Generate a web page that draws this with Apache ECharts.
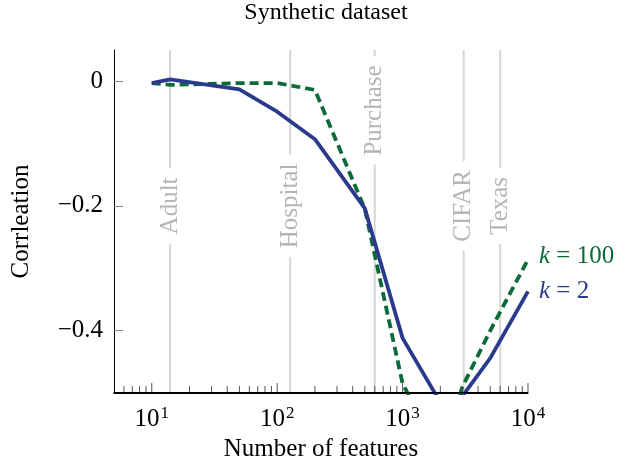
<!DOCTYPE html>
<html>
<head>
<meta charset="utf-8">
<script src="https://cdn.jsdelivr.net/npm/echarts@6/dist/echarts.min.js"></script>
<style>
  html, body { margin: 0; padding: 0; background: #fff; }
  #chart { width: 627px; height: 467px; }
</style>
</head>
<body>
<div id="chart"></div>
<script>
const features = [10, 14, 50, 100, 200, 500, 1000, 2000, 3000, 5000, 10000]
const corrK2 = [-0.003, 0.003, -0.013, -0.049, -0.093, -0.204, -0.412, -0.515, -0.505, -0.444, -0.337]
const corrK100 = [-0.003, -0.006, -0.003, -0.003, -0.014, -0.205, -0.485, -0.6, -0.49, -0.4, -0.286]

// real datasets, marked as vertical lines
const datasetNames = ['Adult', 'Hospital', 'Purchase', 'CIFAR', 'Texas']
const datasetFeatures = [14, 127, 600, 3072, 6000]
const datasetLabelY = [-0.2, -0.2, -0.047, -0.2, -0.2]

const yTicks = [0, -0.2, -0.4]
const xMajorTicks = [10, 100, 1000, 10000]
const xMinorTicks = [6, 7, 8, 9, 20, 30, 40, 50, 60, 70, 80, 90,
  200, 300, 400, 500, 600, 700, 800, 900,
  2000, 3000, 4000, 5000, 6000, 7000, 8000, 9000]

const xMin = 5
const xMax = 10000
const yMin = -0.5
const yMax = 0.05
const serif = 'Liberation Serif'
const fs = 25
const blue = '#2b3a8c'
const green = '#0a6b38'

const chart = echarts.init(document.getElementById('chart'))

chart.setOption({
  animation: false,
  title: {
    text: 'Synthetic dataset',
    left: 321,
    top: -4,
    textAlign: 'center',
    textStyle: { fontFamily: serif, fontWeight: 'normal', fontSize: 24, color: '#000' }
  },
  grid: { left: 114, right: 99, top: 50, bottom: 73 },
  xAxis: {
    type: 'log',
    logBase: 10,
    min: xMin,
    max: xMax,
    name: 'Number of features',
    nameLocation: 'middle',
    nameGap: 44,
    nameTextStyle: { fontFamily: serif, fontSize: fs, color: '#000' },
    axisLine: { show: true, onZero: false, lineStyle: { color: '#000', width: 1 } },
    axisTick: { show: false },
    splitLine: { show: false },
    axisLabel: {
      margin: 12,
      showMinLabel: false,
      formatter: v => {
        const e = Math.round(Math.log10(v))
        if (Math.abs(Math.log10(v) - e) > 1e-6) return ''
        return '{b|10}{s|' + e + '}'
      },
      rich: {
        b: { fontFamily: serif, fontSize: fs, color: '#000' },
        s: { fontFamily: serif, fontSize: 17, color: '#000', padding: [0, 0, 11, 1] }
      }
    }
  },
  yAxis: {
    type: 'value',
    min: yMin,
    max: yMax,
    name: 'Corrleation',
    nameLocation: 'middle',
    nameGap: 80,
    nameTextStyle: { fontFamily: serif, fontSize: fs, color: '#000' },
    axisLine: { show: true, lineStyle: { color: '#000', width: 1 } },
    axisTick: { inside: true, length: 9, lineStyle: { color: '#888' }, customValues: yTicks },
    splitLine: { show: false },
    axisLabel: {
      margin: 11,
      fontFamily: serif,
      fontSize: fs,
      color: '#000',
      customValues: yTicks,
      formatter: v => (v < 0 ? '\u2212' + Math.abs(v) : String(v))
    }
  },
  series: [
    {
      // dataset lines with their rotated names on a white box
      type: 'custom',
      z: 1,
      silent: true,
      clip: false,
      data: datasetFeatures.map((f, i) => [f, datasetLabelY[i]]),
      renderItem: (params, api) => {
        const x = api.value(0)
        const top = api.coord([x, yMax])
        const bottom = api.coord([x, yMin])
        const mid = api.coord([x, api.value(1)])
        return {
          type: 'group',
          children: [
            {
              type: 'line',
              shape: { x1: top[0], y1: top[1], x2: bottom[0], y2: bottom[1] },
              style: { stroke: '#d6d6d6', lineWidth: 2 }
            },
            {
              type: 'text',
              x: mid[0],
              y: mid[1],
              rotation: Math.PI / 2,
              style: {
                text: datasetNames[params.dataIndex],
                font: fs + 'px "' + serif + '"',
                fill: '#b5b5b5',
                align: 'center',
                verticalAlign: 'middle',
                backgroundColor: '#fff',
                padding: [0, 9]
              }
            }
          ]
        }
      }
    },
    {
      // x axis ticks drawn through the log scale
      type: 'custom',
      z: 5,
      silent: true,
      clip: false,
      data: xMajorTicks.map(v => [v, 1]).concat(xMinorTicks.map(v => [v, 0])),
      renderItem: (params, api) => {
        const p = api.coord([api.value(0), yMin])
        const len = api.value(1) ? 10 : 7
        return {
          type: 'line',
          shape: { x1: p[0], y1: p[1], x2: p[0], y2: p[1] - len },
          style: { stroke: '#555', lineWidth: 1 }
        }
      }
    },
    {
      // bottom axis line as a thin filled bar along y = yMin
      type: 'custom',
      z: 10,
      silent: true,
      clip: false,
      data: [[xMin, yMin, xMax]],
      renderItem: (params, api) => {
        const a = api.coord([api.value(0), api.value(1)])
        const b = api.coord([api.value(2), api.value(1)])
        return {
          type: 'rect',
          shape: { x: a[0] - 0.5, y: a[1] - 1, width: b[0] - a[0] + 0.5, height: 1.2 },
          style: { fill: '#000' }
        }
      }
    },
    {
      name: 'k = 2',
      type: 'line',
      z: 4,
      data: features.map((f, i) => [f, corrK2[i]]),
      showSymbol: false,
      lineStyle: { color: blue, width: 3.8 },
      itemStyle: { color: blue },
      endLabel: {
        show: true,
        distance: 11,
        formatter: '{i|k} = 2',
        fontFamily: serif,
        fontSize: fs,
        color: blue,
        rich: { i: { fontFamily: serif, fontSize: fs, fontStyle: 'italic', color: blue } }
      }
    },
    {
      name: 'k = 100',
      type: 'line',
      z: 3,
      data: features.map((f, i) => [f, corrK100[i]]),
      showSymbol: false,
      lineStyle: { color: green, width: 3.8, type: [9, 5] },
      itemStyle: { color: green },
      endLabel: {
        show: true,
        distance: 11,
        offset: [0, -3],
        formatter: '{i|k} = 100',
        fontFamily: serif,
        fontSize: fs,
        color: green,
        rich: { i: { fontFamily: serif, fontSize: fs, fontStyle: 'italic', color: green } }
      }
    }
  ]
})
</script>
</body>
</html>
